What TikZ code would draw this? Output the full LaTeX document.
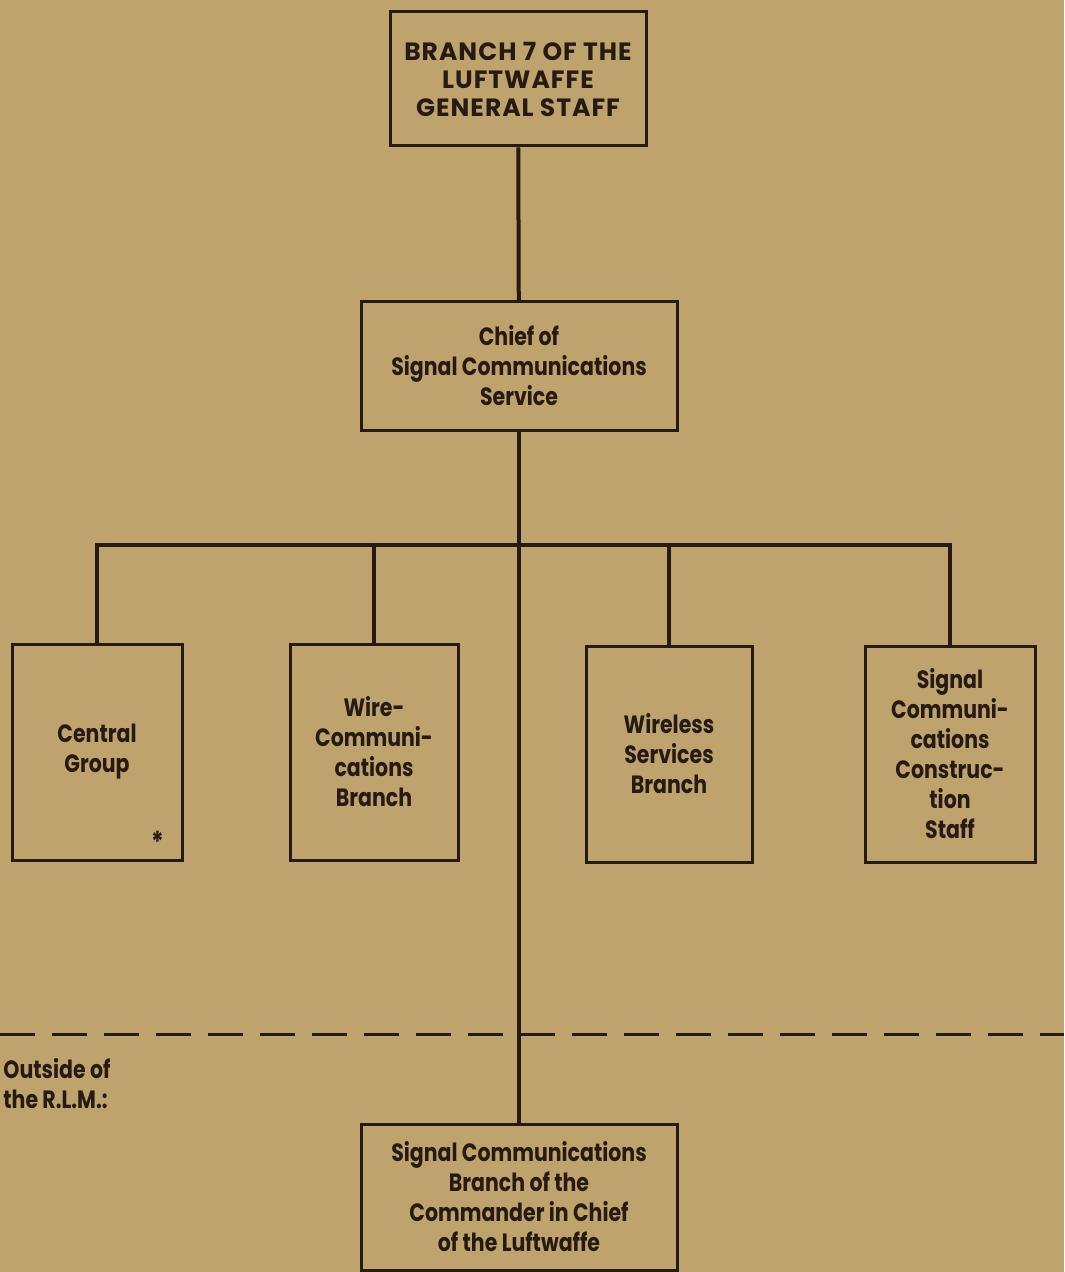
\documentclass[tikz,border=0pt]{standalone}
\usepackage{fontspec}
\setmainfont{Poppins}[FakeStretch=0.82]
\newfontfamily\capsfont{Poppins}[LetterSpace=4]
\definecolor{paper}{RGB}{190,163,108}
\definecolor{ink}{RGB}{38,26,20}
\tikzset{
    unit/.style={draw=ink, line width=1.5pt, align=center, inner sep=0pt, text=ink,
        font=\fontsize{12.5}{15}\selectfont\bfseries},
    link/.style={draw=ink, line width=2pt}
}
\begin{document}
\begin{tikzpicture}[x=0.5pt, y=-0.5pt]
            \fill[paper] (0,0) rectangle (1064,1272);
            \useasboundingbox (0,0) rectangle (1064,1272);

            \node[unit, minimum width=128pt, minimum height=67pt,
                font=\capsfont\fontsize{12.5}{14}\selectfont\bfseries] (staff) at (518, 79) { BRANCH 7 OF THE\\ LUFTWAFFE\\ GENERAL STAFF };
            \node[unit, minimum width=158pt, minimum height=64pt] (chief) at (519, 366) { Chief of\\ Signal Communications\\ Service };

            \node[unit, minimum width=85pt, minimum height=108pt] (central) at (97, 752) { Central\\ Group };
            \node[unit, minimum width=84pt, minimum height=108pt] (wire) at (374, 752) { Wire-\\ Communi-\\ cations\\ Branch };
            \node[unit, minimum width=83pt, minimum height=108pt] (wireless) at (669, 754) { Wireless\\ Services\\ Branch };
            \node[unit, minimum width=85pt, minimum height=108pt] (construction) at (950, 754) { Signal\\ Communi-\\ cations\\ Construc-\\ tion\\ Staff };
            \node[text=ink, font=\bfseries\Large, inner sep=0pt] (star) at (158, 842) { * };

            \node[unit, minimum width=158pt, minimum height=73pt] (branch) at (519, 1197) { Signal Communications\\ Branch of the\\ Commander in Chief\\ of the Luftwaffe };

            \coordinate (bus) at (519, 545);
            \coordinate (cutL) at (0, 1034);
            \coordinate (cutR) at (1064, 1034);
            \node[anchor=north west, align=left, inner sep=0pt, text=ink,
                font=\fontsize{12.5}{15}\selectfont\bfseries] (outside) at (3, 1058) { Outside of\\ the R.L.M.: };

            \draw[link] (staff) -- (chief);
            \draw[link] (chief) -- (branch);
            \draw[link] (central.north) |- (bus) -| (construction.north);
            \draw[link] (wire.north) -- (wire.north |- bus);
            \draw[link] (wireless.north) -- (wireless.north |- bus);
            \draw[link, line width=1.5pt, dash pattern=on 17.5pt off 8.5pt] (cutL) -- (cutR);
        \end{tikzpicture}
\end{document}
